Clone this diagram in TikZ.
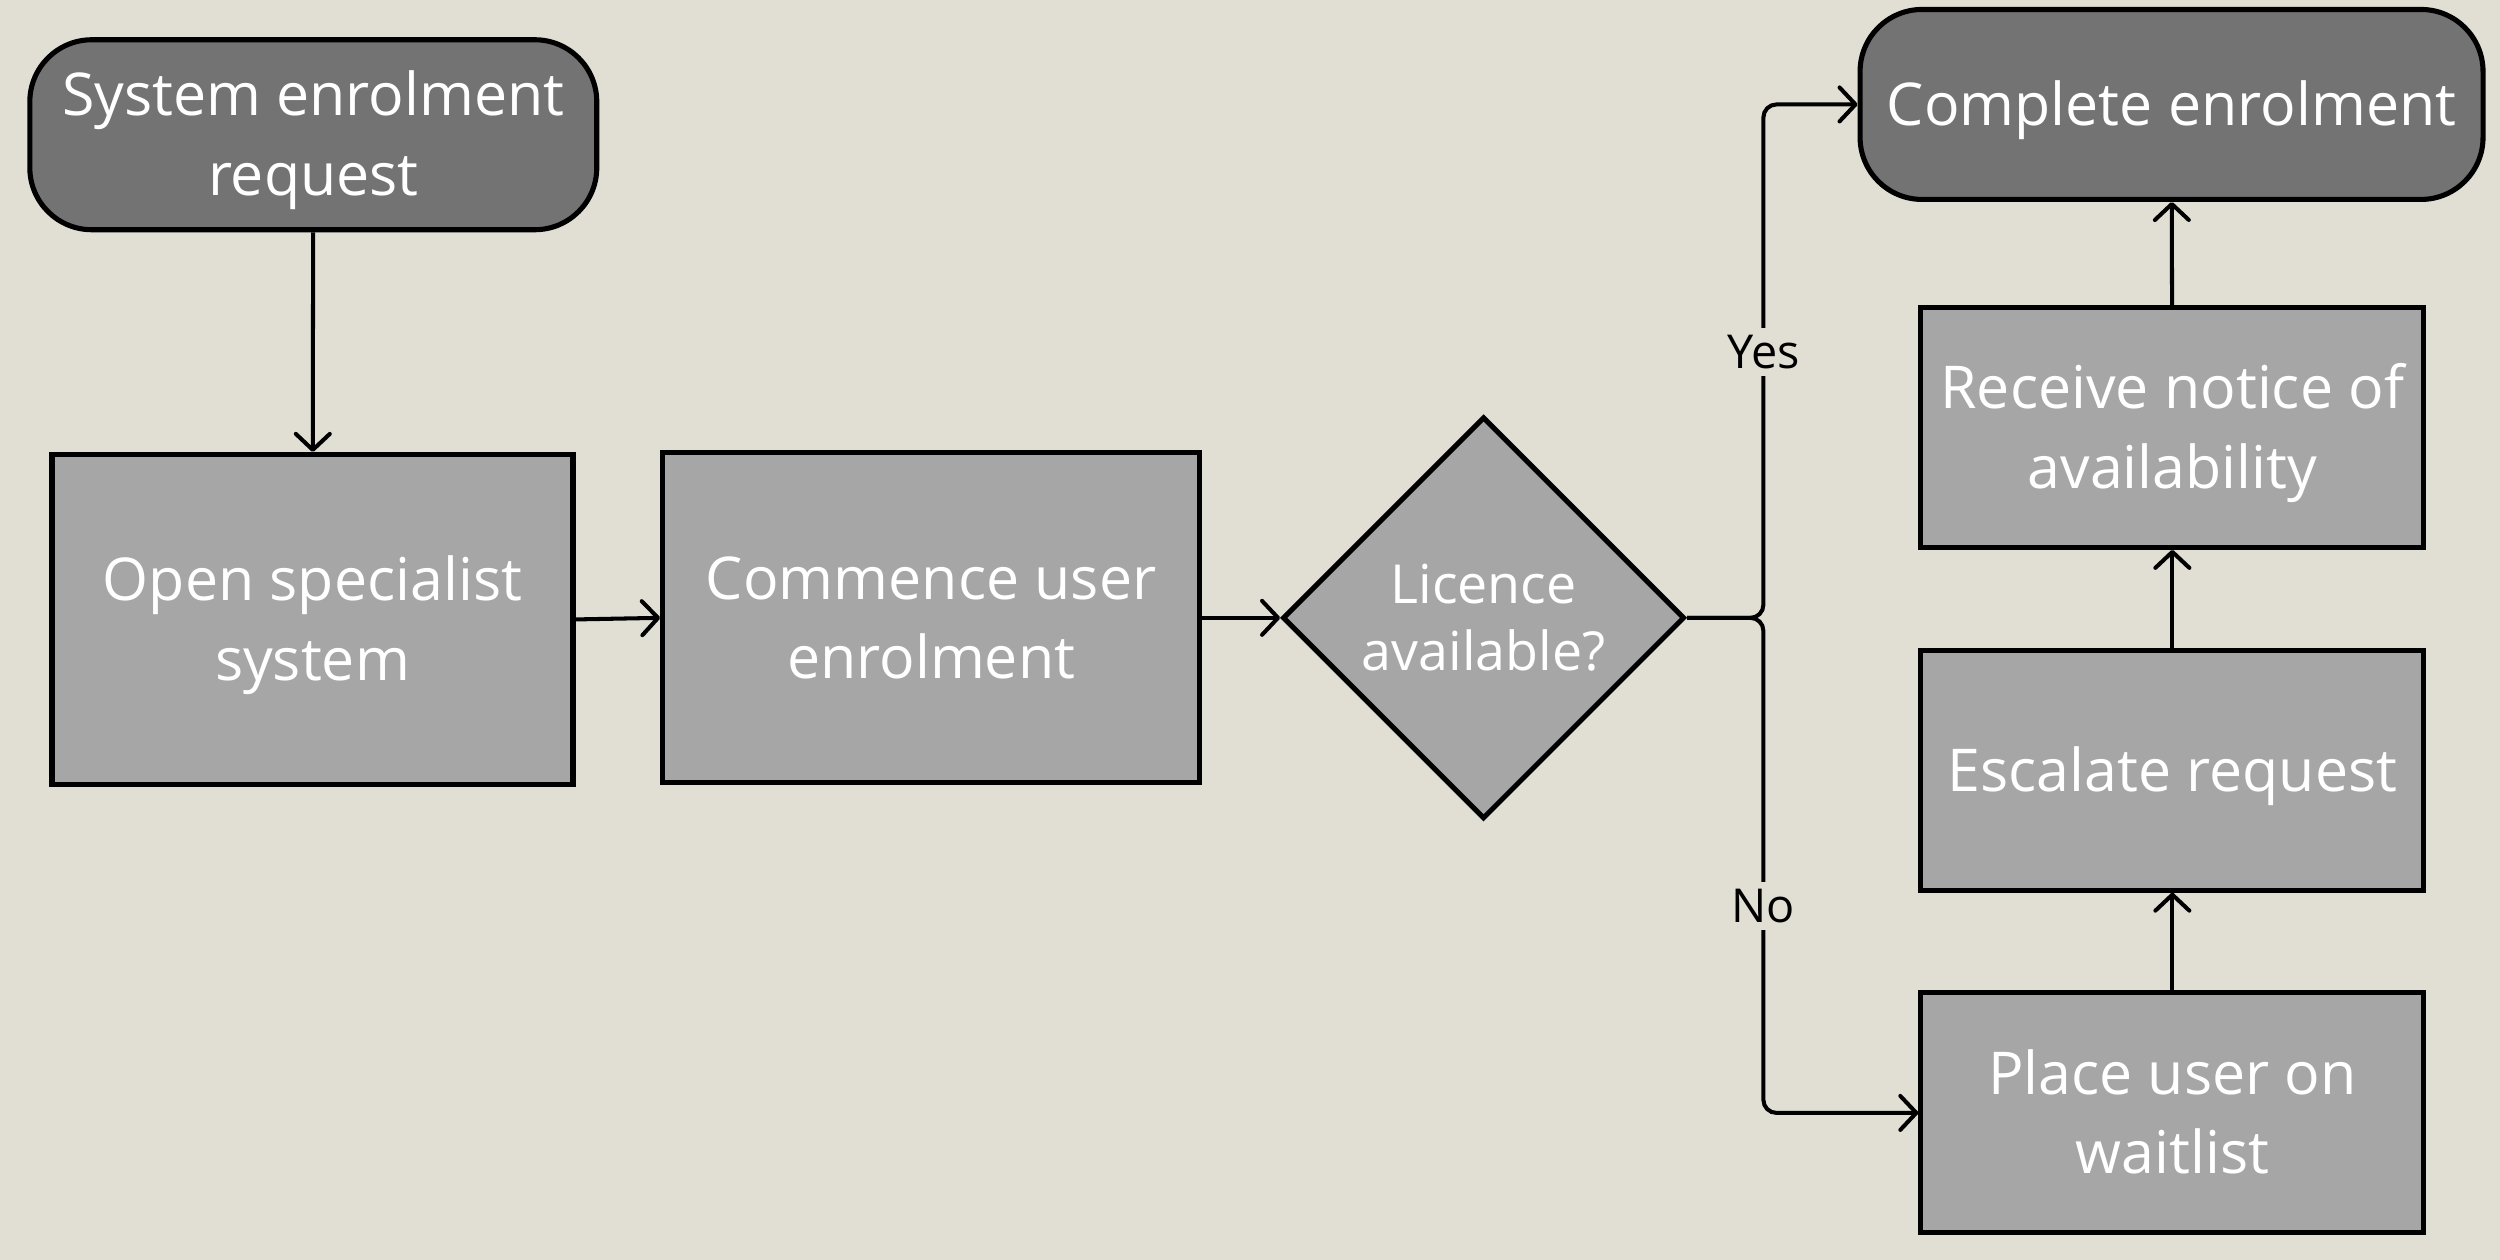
\documentclass[tikz,border=0pt]{standalone}
\usepackage{fontspec}
\setmainfont{Open Sans}
\usetikzlibrary{shapes.geometric,arrows.meta}
\definecolor{bgc}{HTML}{E1DED4}
\definecolor{darkc}{HTML}{737373}
\definecolor{lightc}{HTML}{A6A6A6}
\newcommand\tln[2]{\vbox{\halign{\hfil##\hfil\cr#1\cr#2\cr}}}
\begin{document}
\begin{tikzpicture}[x={(0.015944cm,0)}, y={(0,-0.015944cm)},
  box/.style={draw=black, line width=1.45pt, fill=lightc, text=white,
    font=\fontsize{16.8}{22.7}\selectfont, inner sep=0pt},
  oneline/.style={text height=12pt, text depth=0pt},
  twoline/.style={text height=34.7pt, text depth=0pt},
  term/.style={box, fill=darkc, rounded corners=0.62cm},
  decision/.style={diamond, aspect=1, draw=black, line width=1.45pt, fill=lightc, text=white,
    inner sep=0pt, font=\fontsize{15.3}{19}\selectfont, text height=29.9pt, text depth=0pt},
  conn/.style={draw=black, line width=1.15pt, -{Straight Barb[length=1.6mm,width=3.4mm,round]}},
  lbl/.style={fill=bgc, text=black, inner sep=2pt, font=\fontsize{13.3}{15}\selectfont}
]
\fill[bgc] (0,0) rectangle (1568,790);
\useasboundingbox (0,0) rectangle (1568,790);

\node[term, twoline, minimum width=5.67cm, minimum height=1.9cm] (start) at (196.5,84.5) {\tln{System enrolment}{request}};
\node[box, twoline, minimum width=5.21cm, minimum height=3.3cm] (open) at (196,388.5) {\tln{Open specialist}{system}};
\node[box, twoline, minimum width=5.37cm, minimum height=3.3cm] (comm) at (584,387.5) {\tln{Commence user}{enrolment}};
\node[decision, minimum width=4.02cm, minimum height=4.02cm] (dec) at (930.5,387.5) {\tln{Licence}{available?}};
\node[term, oneline, minimum width=6.23cm, minimum height=1.9cm] (comp) at (1362,65.5) {Complete enrolment};
\node[box, twoline, minimum width=5.03cm, minimum height=2.4cm] (recv) at (1362.5,268) {\tln{Receive notice of}{availability}};
\node[box, oneline, minimum width=5.03cm, minimum height=2.4cm] (esc) at (1362.5,483) {Escalate request};
\node[box, twoline, minimum width=5.03cm, minimum height=2.4cm] (place) at (1362.5,698) {\tln{Place user on}{waitlist}};

\coordinate (split) at (1106,387.5);

\draw[conn] (start) -- (open);
\draw[conn] (open.east) -- (comm.west);
\draw[conn] (comm.east) -- (dec.west);
\draw[conn, rounded corners=0.13cm] (dec.east) -- (split) |- (comp.west);
\draw[conn, rounded corners=0.13cm] (dec.east) -- (split) |- (place.west);
\draw[conn] (place) -- (esc);
\draw[conn] (esc) -- (recv);
\draw[conn] (recv) -- (comp);

\node[lbl] (yes) at (1106,221) {Yes};
\node[lbl] (no) at (1106,568) {No};
\end{tikzpicture}
\end{document}
